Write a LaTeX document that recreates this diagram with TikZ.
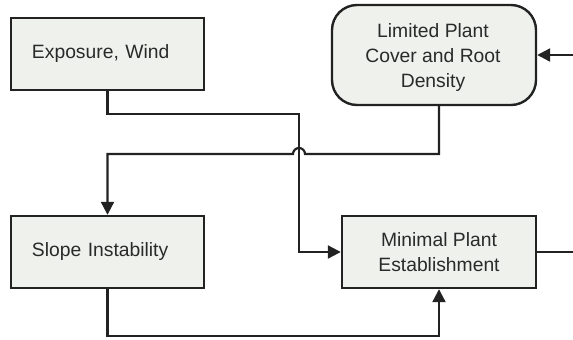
\documentclass[tikz,border=0pt]{standalone}
\usepackage{fontspec}
\setmainfont{Liberation Sans}
\usetikzlibrary{arrows.meta}
\definecolor{boxfill}{HTML}{EFF1EC}
\definecolor{linec}{HTML}{222222}
\definecolor{textc}{HTML}{2A2A2A}
\begin{document}
\begin{tikzpicture}[x=1bp,y=-1bp,
  box/.style={draw=linec,fill=boxfill,line width=2.4bp,text=textc,
    font=\fontsize{19.3bp}{25bp}\selectfont,inner sep=0pt},
  leftbox/.style={box,minimum height=72bp,text width=151bp,inner xsep=21bp,align=left},
  ctrbox/.style={box,minimum width=194bp,minimum height=72bp,align=center},
  conn/.style={draw=linec,line width=2.2bp},
  arr/.style={conn,-{Triangle[length=13bp,width=13bp]}}]
\useasboundingbox (0,0) rectangle (573,339);
\node[leftbox] (expo) at (107.5,54) {Exposure, Wind};
\node[leftbox] (slope) at (107.5,252) {Slope Instability};
\node[ctrbox] (minimal) at (439,252) {Minimal Plant\\Establishment};
\node[box,rounded corners=25bp,minimum width=204bp,minimum height=100bp,align=center] (limited) at (434,55) {};
\node[text=textc,font=\fontsize{19.3bp}{25bp}\selectfont,align=center,inner sep=0pt] (limtext) at (433,58) {Limited Plant\\Cover and Root\\Density};
\coordinate (rin) at (573,55);
\coordinate (rout) at (573,252);
\coordinate (limout) at (439,105);
% right input to Limited
\draw[arr] (rin) -- (limited.east);
% Minimal output to right
\draw[conn] (minimal.east) -- (rout);
% Exposure -> Minimal
\draw[arr] (expo.south) -- (107.5,114) -- (299,114) -- (299,252) -- (minimal.west);
% Limited -> Slope, with jump over
\draw[arr] (limout) -- (439,154) -- (305,154) arc[start angle=0,end angle=-180,radius=6] -- (107.5,154) -- (slope.north);
% Slope -> Minimal
\draw[arr] (slope.south) -- (107.5,336) -- (439,336) -- (minimal.south);
\end{tikzpicture}
\end{document}
